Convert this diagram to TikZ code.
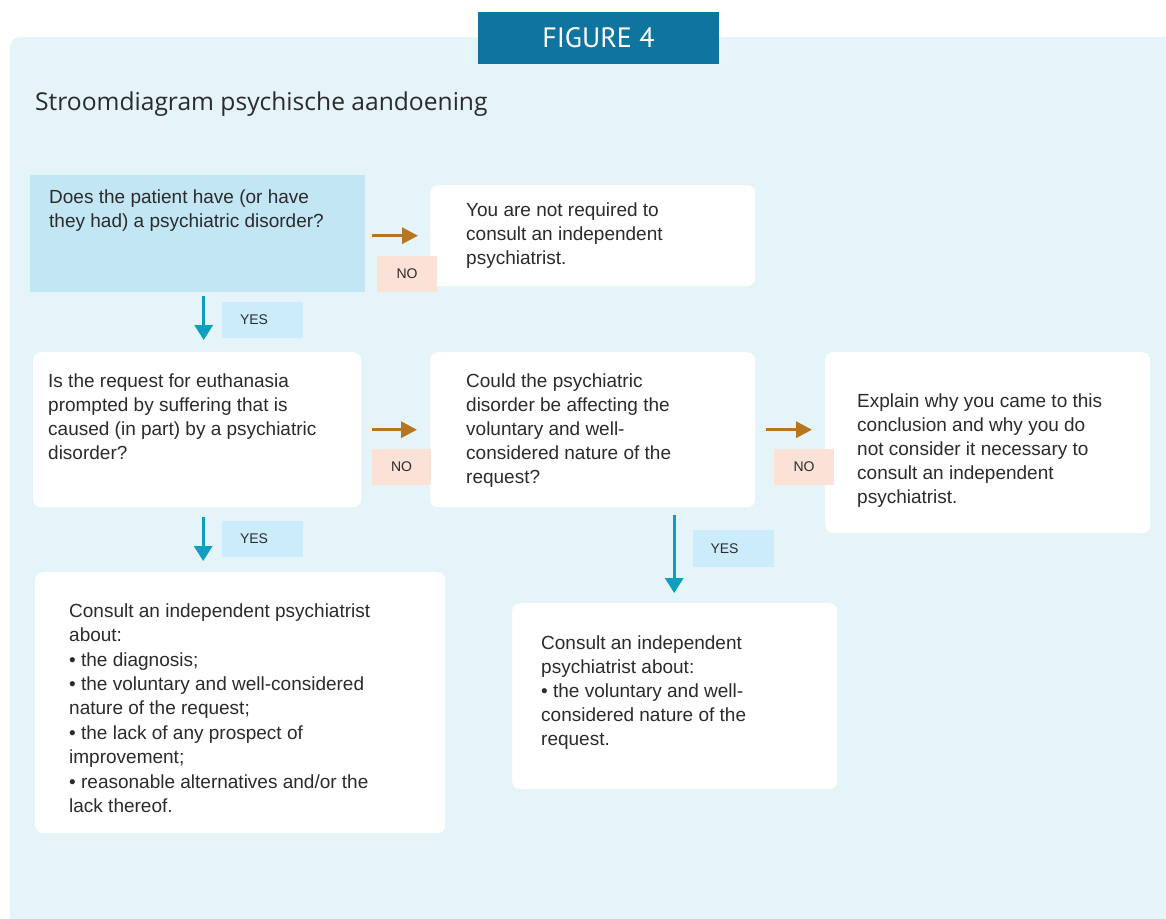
\documentclass[tikz,border=0pt]{standalone}
\usepackage{fontspec}
\setmainfont{Liberation Sans}
\newfontfamily\titlefont{Open Sans}
\newfontfamily\headfont{PT Sans}
\usetikzlibrary{arrows.meta}

\definecolor{panelbg}{HTML}{E4F4F8}
\definecolor{qblue}{HTML}{C3E6F5}
\definecolor{headblue}{HTML}{0F75A0}
\definecolor{txt}{HTML}{2B2B2B}
\definecolor{nobrown}{HTML}{B5761F}
\definecolor{yesteal}{HTML}{0E9EC0}
\definecolor{nofill}{HTML}{FBE1D6}
\definecolor{yesfill}{HTML}{CBECFA}

% invisible first-line strut so text nodes can be placed by their top
\newcommand\hstrut{\rule{0pt}{16pt}}

\tikzset{
  box/.style={anchor=north west, inner sep=0pt, fill=white, rounded corners=8pt},
  qbox/.style={anchor=north west, inner sep=0pt, fill=qblue},
  body/.style={anchor=north west, inner sep=0pt, align=left, text=txt,
    font=\fontsize{19}{24}\selectfont},
  nolab/.style={fill=nofill, minimum width=60pt, minimum height=36pt, inner sep=0pt,
    text=txt, font=\fontsize{14}{16}\selectfont},
  yeslab/.style={fill=yesfill, text width=45pt, inner xsep=18pt, inner ysep=0pt,
    minimum height=36pt, align=left, text=txt, font=\fontsize{14}{16}\selectfont},
  noarr/.style={draw=nobrown, line width=3.2pt, -{Triangle[length=16pt,width=16pt]}},
  yesarr/.style={draw=yesteal, line width=3.2pt, -{Triangle[length=15pt,width=18pt]}},
}

\begin{document}
\begin{tikzpicture}[x=1pt, y=-1pt]
\useasboundingbox (0,0) rectangle (1166,918);

% background panel
\begin{scope}
  \clip (0,0) rectangle (1166,918);
  \fill[panelbg, rounded corners=10pt] (10,37) rectangle (1190,940);
\end{scope}

% header tab and title
\node[fill=headblue, minimum width=241pt, minimum height=52pt, inner sep=0pt,
      text=white, font=\headfont\fontsize{28}{30}\selectfont] (fig) at (598.5,38) {FIGURE 4};
\node[anchor=base west, inner sep=0pt, text=txt,
      font=\titlefont\fontsize{24.6}{28}\selectfont] (title) at (35,110.7)
      {Stroomdiagram psychische aandoening};

% boxes
\node[qbox, minimum width=335pt, minimum height=117pt] (q1) at (30,175) {};
\node[box, minimum width=325pt, minimum height=101pt] (a1) at (430,185) {};
\node[box, minimum width=328pt, minimum height=155pt] (q2) at (33,352) {};
\node[box, minimum width=325pt, minimum height=155pt] (q3) at (430,352) {};
\node[box, minimum width=325pt, minimum height=181pt] (a3) at (825,352) {};
\node[box, minimum width=410pt, minimum height=261pt] (a2) at (35,572) {};
\node[box, minimum width=325pt, minimum height=186pt] (a4) at (512,603) {};

% box texts
\node[body] (q1t) at (49,187) {\hstrut Does the patient have (or have\\they had) a psychiatric disorder?};
\node[body] (a1t) at (466,200) {\hstrut You are not required to\\consult an independent\\psychiatrist.};
\node[body] (q2t) at (48,371) {\hstrut Is the request for euthanasia\\prompted by suffering that is\\caused (in part) by a psychiatric\\disorder?};
\node[body] (q3t) at (466,371) {\hstrut Could the psychiatric\\disorder be affecting the\\voluntary and well-\\considered nature of the\\request?};
\node[body] (a3t) at (857,391) {\hstrut Explain why you came to this\\conclusion and why you do\\not consider it necessary to\\consult an independent\\psychiatrist.};
\node[body, font=\fontsize{19}{24.4}\selectfont] (a2t) at (69,601)
  {\hstrut Consult an independent psychiatrist\\about:\\\textbullet{} the diagnosis;\\\textbullet{} the voluntary and well-considered\\nature of the request;\\\textbullet{} the lack of any prospect of\\improvement;\\\textbullet{} reasonable alternatives and/or the\\lack thereof.};
\node[body] (a4t) at (541,633) {\hstrut Consult an independent\\psychiatrist about:\\\textbullet{} the voluntary and well-\\considered nature of the\\request.};

% NO connectors
\draw[noarr, shorten <=7pt, shorten >=12pt] (q1.east |- a1.west) -- (a1.west);
\draw[noarr, shorten <=11pt, shorten >=13pt] (q2.east) -- (q2.east -| q3.west);
\draw[noarr, shorten <=11pt, shorten >=13pt] (q3.east) -- (q3.east -| a3.west);

% YES connectors
\draw[yesarr, shorten <=4pt, shorten >=12pt] ([xshift=6pt]q1.south) -- ([xshift=6pt]q1.south |- q2.north);
\draw[yesarr, shorten <=10pt, shorten >=11pt] ([xshift=6pt]q2.south) -- ([xshift=6pt]q2.south |- a2.north);
\draw[yesarr, shorten <=8pt, shorten >=10pt] ([xshift=81.5pt]q3.south) -- ([xshift=81.5pt]q3.south |- a4.north);

% answer labels
\node[nolab] (no1) at (407,274) {NO};
\node[nolab, minimum width=59pt] (no2) at (401.5,467) {NO};
\node[nolab] (no3) at (804,467) {NO};
\node[yeslab] (yes1) at (262.5,320) {YES};
\node[yeslab] (yes2) at (262.5,539) {YES};
\node[yeslab, minimum height=37pt] (yes3) at (733,548.5) {YES};
\end{tikzpicture}
\end{document}
